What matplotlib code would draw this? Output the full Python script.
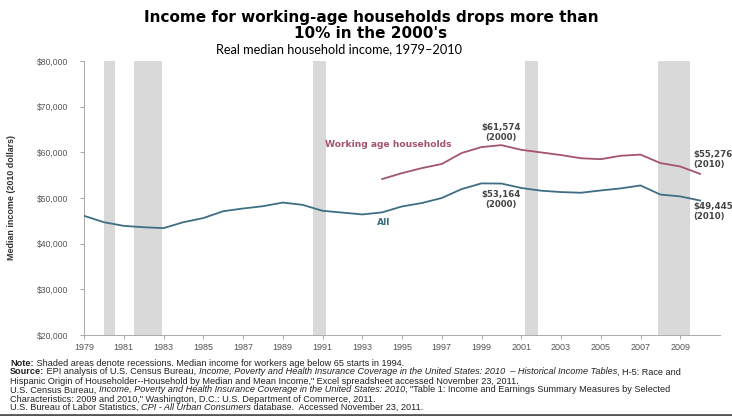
import numpy as np
import matplotlib
matplotlib.use("Agg")
import matplotlib.pyplot as plt

# data (2010 dollars)
years_all = list(range(1979, 2011))
income_all = [46100, 44700, 43900, 43600, 43400, 44700, 45600, 47100, 47700, 48200,
              49000, 48500, 47200, 46800, 46400, 46850, 48150, 48900, 50000, 51950,
              53200, 53164, 52200, 51600, 51300, 51150, 51650, 52100, 52750, 50750,
              50350, 49445]
years_work = list(range(1994, 2011))
income_work = [54150, 55450, 56550, 57450, 59850, 61150, 61574, 60550, 59980, 59400,
               58700, 58500, 59250, 59500, 57650, 56900, 55276]
recessions = [(1980.0, 1980.55), (1981.5, 1982.9), (1990.5, 1991.2),
              (2001.2, 2001.85), (2007.9, 2009.5)]
yticks = [20000, 30000, 40000, 50000, 60000, 70000, 80000]
xticks = list(range(1979, 2010, 2))

narrow = ['Liberation Sans Narrow', 'Liberation Sans', 'DejaVu Sans']
c_work = '#a3546e'
c_all = '#3f6e84'

fig = plt.figure(figsize=(7.32, 4.16), dpi=100)
ax = fig.add_axes([84/732, 81/416, 636/732, 274/416])
renderer = fig.canvas.get_renderer()

for a, b in recessions:
    ax.axvspan(a, b, color='#d9d9d9', lw=0, zorder=0)

ax.plot(years_all, income_all, color=c_all, lw=1.3, zorder=3)
ax.plot(years_work, income_work, color=c_work, lw=1.3, zorder=3)

ax.set_xlim(1979, 2011)
ax.set_ylim(20000, 80000)
ax.set_xticks(xticks)
ax.set_xticklabels([str(x) for x in xticks], family=narrow, fontsize=6.5, color='#555555')
ax.set_yticks(yticks)
ax.set_yticklabels(['${:,}'.format(v) for v in yticks], family=narrow, fontsize=6.2,
                   color='#555555')
ax.tick_params(axis='both', length=3, width=0.6, color='#999999', pad=3)
ax.tick_params(axis='y', pad=8)
for s in ['top', 'right']:
    ax.spines[s].set_visible(False)
for s in ['left', 'bottom']:
    ax.spines[s].set_color('#aaaaaa')
    ax.spines[s].set_linewidth(0.7)

ax.set_ylabel('Median income (2010 dollars)', family=narrow, fontsize=6.4,
              fontweight='bold', color='#333333', labelpad=15)

# labels
ax.text(1991.15, 61800, 'Working age households', color=c_work, fontsize=6.6,
        fontweight='bold', family='DejaVu Sans', va='center')
ax.text(1993.75, 44550, 'All', color=c_all, fontsize=6.6, fontweight='bold',
        family='DejaVu Sans', va='center')
ann = dict(fontsize=6.2, fontweight='bold', color='#444444', family='DejaVu Sans',
           linespacing=1.15)
ax.text(2000, 62200, '$61,574\n(2000)', ha='center', va='bottom', **ann)
ax.text(2000, 51700, '$53,164\n(2000)', ha='center', va='top', **ann)
ax.text(2009.65, 58440, '$55,276\n(2010)', ha='left', va='center', clip_on=False, **ann)
ax.text(2009.65, 46960, '$49,445\n(2010)', ha='left', va='center', clip_on=False, **ann)

# titles: size the first line to the width it has in the original
t1 = fig.text(371/732, 1 - 22/416, 'Income for working-age households drops more than',
              ha='center', va='baseline', fontsize=10, fontweight='bold', family='DejaVu Sans')
w = t1.get_window_extent(renderer=renderer).width
tsize = 10 * 458 / w
t1.set_fontsize(tsize)
fig.text(371/732, 1 - 38/416, "10% in the 2000's", ha='center', va='baseline',
         fontsize=tsize, fontweight='bold', family='DejaVu Sans')
fig.text(339/732, 1 - 53/416, 'Real median household income, 1979\u20132010',
         ha='center', va='baseline', fontsize=9.2, family='Lato')

# footnote, drawn piece by piece so italics can sit inline
notes = [
    [('Note:', 'bold', 'normal'),
     (' Shaded areas denote recessions. Median income for workers age below 65 starts in 1994.', 'normal', 'normal')],
    [('Source:', 'bold', 'normal'), (' EPI analysis of U.S. Census Bureau, ', 'normal', 'normal'),
     ('Income, Poverty and Health Insurance Coverage in the United States: 2010  \u2013 Historical Income Tables', 'normal', 'italic'),
     (', H-5: Race and', 'normal', 'normal')],
    [('Hispanic Origin of Householder--Household by Median and Mean Income," Excel spreadsheet accessed November 23, 2011.', 'normal', 'normal')],
    [('U.S. Census Bureau, ', 'normal', 'normal'),
     ('Income, Poverty and Health Insurance Coverage in the United States: 2010', 'normal', 'italic'),
     (', "Table 1: Income and Earnings Summary Measures by Selected', 'normal', 'normal')],
    [('Characteristics: 2009 and 2010," Washington, D.C.: U.S. Department of Commerce, 2011.', 'normal', 'normal')],
    [('U.S. Bureau of Labor Statistics, ', 'normal', 'normal'), ('CPI - All Urban Consumers', 'normal', 'italic'),
     (' database.  Accessed November 23, 2011.', 'normal', 'normal')],
]
line_y = [363, 372, 381, 390, 399, 407.5]
for parts, yy in zip(notes, line_y):
    x = 10 / 732
    for txt, wt, st in parts:
        t = fig.text(x, 1 - yy / 416, txt, ha='left', va='center', fontsize=6.55,
                     fontweight=wt, fontstyle=st, family=narrow, color='#222222')
        bb = t.get_window_extent(renderer=renderer)
        x += bb.width / fig.bbox.width

fig.add_artist(plt.Line2D([0, 1], [1/416, 1/416], color='#555555', lw=2,
                          transform=fig.transFigure))

fig.savefig('out.png', dpi=100)
